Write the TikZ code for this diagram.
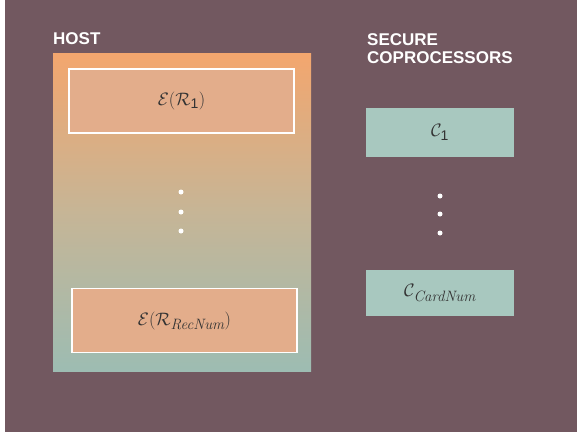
\RequirePackage{fix-cm}
\documentclass[tikz,border=0pt]{standalone}
\usepackage{fontspec}
\newfontfamily\labelfont{Liberation Sans}
\newcommand\subsans[1]{\hbox{\labelfont\fontsize{14}{14}\selectfont #1}}
\newcommand\subital[1]{\hbox{\fontsize{15}{15}\selectfont\itshape #1}}
\definecolor{bgc}{HTML}{725860}
\definecolor{hosttop}{HTML}{F3A66E}
\definecolor{hostmid}{HTML}{C6B596}
\definecolor{hostbot}{HTML}{9DBCB2}
\definecolor{encfill}{HTML}{E3AD8B}
\definecolor{copfill}{HTML}{A8C8BF}
\definecolor{txt}{HTML}{333333}
\begin{document}
\begin{tikzpicture}[x=1pt,y=-1pt,
  heading/.style={text=white,font=\labelfont\bfseries\fontsize{17}{18}\selectfont,anchor=north west,inner sep=0pt,align=left},
  encbox/.style={draw=white,line width=1.2pt,fill=encfill,minimum width=225pt,minimum height=64pt,inner sep=0pt,text=txt,font=\fontsize{18}{20}\selectfont},
  copbox/.style={fill=copfill,minimum width=148pt,minimum height=49pt,inner sep=0pt,text=txt,font=\fontsize{18}{20}\selectfont},
  dot/.style={circle,fill=white,inner sep=0pt,minimum size=5pt}]
\useasboundingbox (0,0) rectangle (577,432);
\fill[white] (0,0) rectangle (577,432);
\fill[bgc] (5,0) rectangle (577,432);
\node[heading] (host) at (53,32) {HOST};
\node[heading] (sec) at (367,33) {SECURE\\COPROCESSORS};
\shade[top color=hosttop,bottom color=hostbot,middle color=hostmid] (53,53) rectangle (311,371);
\node[encbox] (e1) at (181.5,101) {$\mathcal{E}(\mathcal{R}_{\subsans{1}})$};
\node[encbox] (en) at (184.5,320.5) {$\mathcal{E}(\mathcal{R}_{\subital{RecNum}})$};
\node[dot] (d1) at (181,192) {};
\node[dot] (d2) at (181,212) {};
\node[dot] (d3) at (181,231) {};
\node[copbox] (c1) at (440,132.5) {$\mathcal{C}_{\subsans{1}}$};
\node[copbox,minimum height=46pt] (cn) at (440,293) {$\mathcal{C}_{\subital{CardNum}}$};
\node[dot] (d4) at (440,196) {};
\node[dot] (d5) at (440,214) {};
\node[dot] (d6) at (440,233) {};
\end{tikzpicture}
\end{document}
